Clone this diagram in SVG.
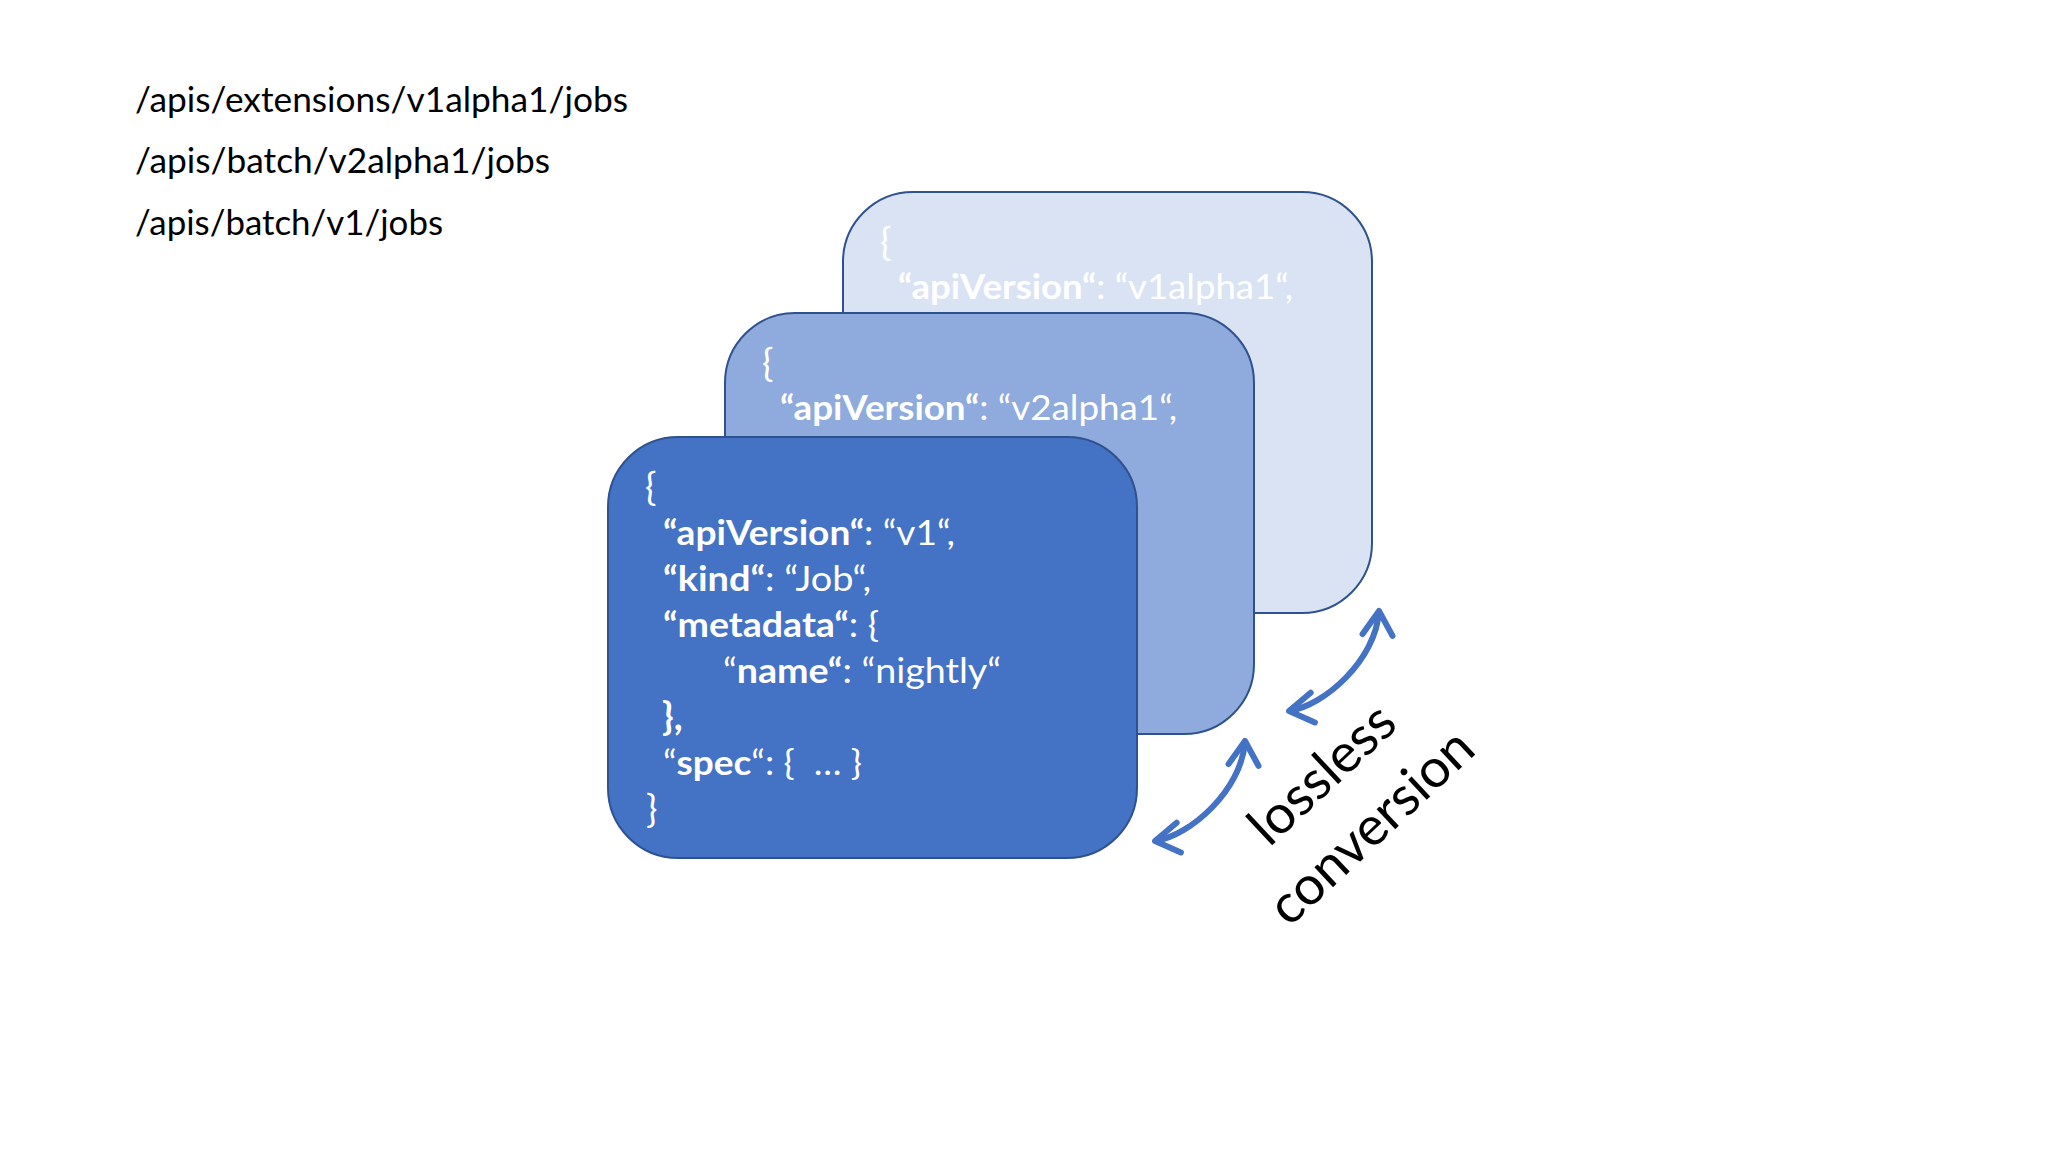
<svg xmlns="http://www.w3.org/2000/svg" width="2048" height="1152" viewBox="0 0 2048 1152">
  <style>
    .path { font-family: Lato, "Noto Sans", "Liberation Sans", sans-serif; font-size: 35px; fill: #000000; }
    .card { stroke: #2F528F; stroke-width: 2; }
    .front { fill: #4472C4; }
    .mid { fill: #8FAADC; }
    .back { fill: #DAE3F3; }
    .code { font-family: Lato, "Noto Sans", "Liberation Sans", sans-serif; font-size: 35px; fill: #FFFFFF; }
    .brace { font-size: 38px; }
    .b { font-weight: bold; }
    .conn { fill: none; stroke: #4472C4; stroke-width: 6; }
    .label { font-family: Lato, "Noto Sans", "Liberation Sans", sans-serif; font-size: 54px; fill: #000000; text-anchor: middle; }
  </style>
  <defs>
    <marker id="chev" markerUnits="userSpaceOnUse" viewBox="-30 -20 34 40" refX="0" refY="0" markerWidth="34" markerHeight="40" orient="auto-start-reverse">
      <path d="M-24,-15 L0,0 L-24,15" fill="none" stroke="#4472C4" stroke-width="6" stroke-linecap="round" stroke-linejoin="round"/>
    </marker>
  </defs>
  <rect x="0" y="0" width="2048" height="1152" fill="#FFFFFF"/>

  <g id="endpoints">
    <text class="path" x="135" y="112" textLength="493" lengthAdjust="spacingAndGlyphs">/apis/extensions/v1alpha1/jobs</text>
    <text class="path" x="135" y="173" textLength="415" lengthAdjust="spacingAndGlyphs">/apis/batch/v2alpha1/jobs</text>
    <text class="path" x="135" y="235" textLength="308" lengthAdjust="spacingAndGlyphs">/apis/batch/v1/jobs</text>
  </g>

  <g id="card-v1alpha1">
    <rect class="card back" x="843" y="192" width="529" height="421" rx="70" ry="70"/>
    <text class="code brace" x="880" y="255">{</text>
    <text class="code" x="898" y="299" textLength="395" lengthAdjust="spacingAndGlyphs"><tspan class="b">“apiVersion“</tspan>: “v1alpha1“,</text>
  </g>

  <g id="card-v2alpha1">
    <rect class="card mid" x="725" y="313" width="529" height="421" rx="70" ry="70"/>
    <text class="code brace" x="762" y="376">{</text>
    <text class="code" x="780" y="420" textLength="397" lengthAdjust="spacingAndGlyphs"><tspan class="b">“apiVersion“</tspan>: “v2alpha1“,</text>
  </g>

  <g id="card-v1">
    <rect class="card front" x="608" y="437" width="529" height="421" rx="70" ry="70"/>
    <text class="code brace" x="645" y="500">{</text>
    <text class="code" x="663" y="545" textLength="292" lengthAdjust="spacingAndGlyphs"><tspan class="b">“apiVersion“</tspan>: “v1“,</text>
    <text class="code" x="663" y="591" textLength="208" lengthAdjust="spacingAndGlyphs"><tspan class="b">“kind“</tspan>: “Job“,</text>
    <text class="code" x="663" y="637" textLength="216" lengthAdjust="spacingAndGlyphs"><tspan class="b">“metadata“</tspan>: {</text>
    <text class="code" x="723" y="683" textLength="278" lengthAdjust="spacingAndGlyphs">“<tspan class="b">name“</tspan>: “nightly“</text>
    <text class="code b brace" x="662" y="730">},</text>
    <text class="code" x="663" y="775" textLength="199" lengthAdjust="spacingAndGlyphs">“<tspan class="b">spec</tspan>“: {&#160; … }</text>
    <text class="code brace" x="646" y="822">}</text>
  </g>

  <g id="connectors">
    <path class="conn" d="M1155,841 C1190,836 1242,790 1245,741" marker-start="url(#chev)" marker-end="url(#chev)"/>
    <path class="conn" d="M1289,711 C1324,706 1376,660 1379,611" marker-start="url(#chev)" marker-end="url(#chev)"/>
  </g>

  <g id="conversion-label" transform="translate(1348,802) rotate(-43)">
    <text class="label" x="0" y="-20">lossless</text>
    <text class="label" x="0" y="52">conversion</text>
  </g>
</svg>
